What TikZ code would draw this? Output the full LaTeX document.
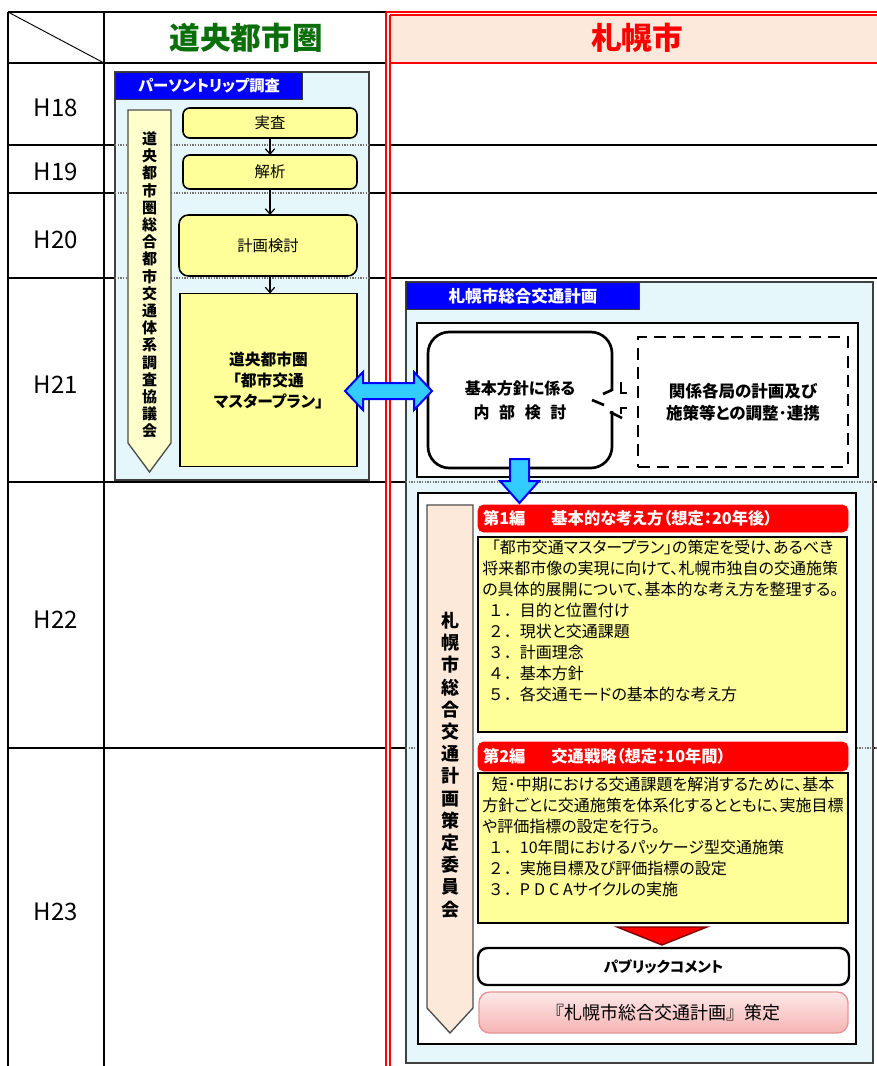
\documentclass[tikz,border=0pt]{standalone}
\usepackage{fontspec}
\setmainfont{Noto Sans CJK JP}[RawFeature={+palt}]
\newfontfamily\jpn{Noto Sans CJK JP}
\usetikzlibrary{arrows.meta,calc}
\definecolor{dgreen}{HTML}{0A6E0A}
\definecolor{peach}{HTML}{FCE9DB}
\definecolor{lblue}{HTML}{E6F7FC}
\definecolor{yel}{HTML}{FFFF99}
\definecolor{lyel}{HTML}{FFFFCC}
\definecolor{rpeach}{HTML}{FDE9DA}
\definecolor{tabblue}{HTML}{0000FF}
\definecolor{cyanA}{HTML}{33CCFF}
\definecolor{pinktop}{HTML}{FDE8E8}
\definecolor{pinkbot}{HTML}{F6B4B4}
\definecolor{pinkb}{HTML}{E69494}
\def\PX{0.75pt}
\newcommand\FS[2]{\fontsize{#1}{#2}\selectfont}
\newcommand\num[1]{\hspace*{0.35em}{\jpn #1．}}
\begin{document}
\begin{tikzpicture}[x=0.75pt,y=-0.75pt,
  tbl/.style={line width=1.4pt, draw=black},
  redl/.style={line width=1pt, draw=red},
  dotline/.style={draw=black!55, line width=1pt, dash pattern=on 1pt off 1pt},
  lbox/.style={draw=black!75, line width=1.1pt, fill=lblue},
  tab/.style={draw=black!80, line width=0.9pt, fill=tabblue, text=white, inner sep=0pt, anchor=north west},
  ybox/.style={draw=black, line width=1.2pt, fill=yel, inner sep=0pt, outer sep=0pt},
  wbox/.style={draw=black, line width=1.3pt, fill=white},
  penta/.style={draw=black!70, line width=1pt},
  rhead/.style={fill=red, draw=red, rounded corners=4pt, text=white, inner xsep=5*\PX, inner ysep=0pt, align=left, font=\bfseries\FS{12.2}{14}},
  arr/.style={-{Straight Barb[length=4pt,width=7pt]}, line width=0.9pt},
  blockarrow/.style={fill=cyanA, draw=tabblue, line width=1.5pt, line join=miter},
  body/.style={anchor=north west, inner sep=0pt, align=left, font=\FS{12}{15.75}}
]
\useasboundingbox (0,0) rectangle (877,1066);

% ---------------- table ----------------
\fill[peach] (390,15) rectangle (877,63);
\draw[tbl] (8,12) -- (386,12);
\draw[tbl] (8,12) -- (8,1066);
\draw[tbl] (104,12) -- (104,1066);
\draw[line width=0.7pt] (8,12) -- (104,63);
\foreach \yy in {63,145,193,278,482,748}{
  \draw[tbl] (8,\yy) -- (386,\yy);
}
\foreach \yy in {145,193,278,482,748}{
  \draw[tbl] (390,\yy) -- (877,\yy);
}
\draw[redl] (386,12) -- (877,12);
\draw[redl] (390,15) -- (877,15);
\draw[redl] (390,63) -- (877,63);
\draw[redl] (386,12) -- (386,1066);
\draw[redl] (390,15) -- (390,1066);

% header texts
\node[font=\bfseries\FS{23}{26}, text=dgreen] (hleft) at (246,38) {道央都市圏};
\node[font=\bfseries\FS{23}{26}, text=red] (hright) at (637,38) {札幌市};

% row labels
\node[font=\FS{18}{20}] (h18) at (56,108) {H18};
\node[font=\FS{18}{20}] (h19) at (56,172) {H19};
\node[font=\FS{18}{20}] (h20) at (56,240) {H20};
\node[font=\FS{18}{20}] (h21) at (56,385) {H21};
\node[font=\FS{18}{20}] (h22) at (56,620) {H22};
\node[font=\FS{18}{20}] (h23) at (56,912) {H23};

% ---------------- left block ----------------
\draw[lbox] (115,72) rectangle (369,480);
\foreach \yy in {145,193,278}{
  \draw[dotline] (115,\yy) -- (369,\yy);
}
\node[tab, font=\bfseries\FS{11.5}{13}, minimum width=187*\PX, minimum height=27*\PX] (ptrip) at (115,72) {パーソントリップ調査};

\draw[penta, fill=lyel] (128,110) -- (171,110) -- (171,443) -- (149.5,472) -- (128,443) -- cycle;
\node[font=\bfseries\FS{11.25}{12.9}, align=center, inner sep=0pt] (lvt) at (149.5,285)
  {道\\央\\都\\市\\圏\\総\\合\\都\\市\\交\\通\\体\\系\\調\\査\\協\\議\\会};

\node[ybox, rounded corners=5pt, minimum width=174*\PX, minimum height=30*\PX, font=\FS{11.5}{13}] (jissa) at (270,123) {実査};
\node[ybox, rounded corners=5pt, minimum width=174*\PX, minimum height=34*\PX, font=\FS{11.5}{13}] (kaiseki) at (270,172) {解析};
\node[ybox, rounded corners=7pt, minimum width=178*\PX, minimum height=61*\PX, font=\FS{11.5}{13}] (kentou) at (268,245.5) {計画検討};
\node[ybox, minimum width=177*\PX, minimum height=173*\PX, align=center, font=\bfseries\FS{11.8}{15.75}] (mp) at (268.5,380) {道央都市圏\\「都市交通\\マスタープラン」};

\draw[arr] (jissa.south) -- (jissa.south |- kaiseki.north);
\draw[arr] (kaiseki.south) -- (kaiseki.south |- kentou.north);
\draw[arr] (jissa.south |- kentou.south) -- (jissa.south |- mp.north);

% ---------------- right block ----------------
\draw[lbox] (406,282) rectangle (873,1063);
\draw[dotline] (406,482) -- (873,482);
\draw[dotline] (406,748) -- (877,748);
\node[tab, font=\bfseries\FS{12.4}{14}, minimum width=233*\PX, minimum height=27*\PX] (sptab) at (406,282) {札幌市総合交通計画};

\draw[wbox] (417,323) rectangle (858,477);
\node[draw, line width=2pt, fill=white, rounded corners=16pt, minimum width=184*\PX, minimum height=136*\PX, align=center, font=\bfseries\FS{12}{18}] (kn) at (520,400)
  {基本方針に係る\\内\hspace{0.6em}部\hspace{0.6em}検\hspace{0.6em}討};
\node[draw, line width=1.9pt, dash pattern=on 9pt off 5.5pt, fill=white, minimum width=210*\PX, minimum height=130*\PX, align=center, font=\bfseries\FS{12.4}{16.5}] (rk) at (743,402)
  {関係各局の計画及び\\施策等との調整･連携};
% callout marks
\fill[white] (608,391) rectangle (616,411);
\draw[line width=2pt] (612,390) -- (603,394);
\draw[line width=2pt] (592,400) -- (604,405);
\draw[line width=2pt] (610,412) -- (622,418);
\draw[line width=2pt] (621,382) -- (621,393) -- (627,393);
\draw[line width=2pt] (621,414) -- (621,408) -- (627,408);

\draw[wbox] (418,493) rectangle (856,1044);

% block arrows
\draw[blockarrow] (510,459) -- (529,459) -- (529,481) -- (539,481) -- (519.5,503) -- (500,481) -- (510,481) -- cycle;
\draw[blockarrow] (345,391) -- (363,372) -- (363,383) -- (414,383) -- (414,372) -- (432,391) -- (414,410) -- (414,399) -- (363,399) -- (363,410) -- cycle;

\draw[penta, fill=rpeach] (427,505) -- (473,505) -- (473,1008) -- (450,1033) -- (427,1008) -- cycle;
\node[font=\bfseries\FS{13.5}{16.65}, align=center, inner sep=0pt] (rvt) at (450,765)
  {札\\幌\\市\\総\\合\\交\\通\\計\\画\\策\\定\\委\\員\\会};

\node[rhead, text width=360*\PX, minimum height=27*\PX] (hd1) at (663,518.5) {第1編\hspace{1.6em}基本的な考え方（想定：20年後）};
\node[ybox, minimum width=369*\PX, minimum height=195*\PX] (y1) at (662.5,634.5) {};
\node[body] (t1) at (482,540) {%
\hspace*{0.6em}「都市交通マスタープラン」の策定を受け、あるべき\\
将来都市像の実現に向けて、札幌市独自の交通施策\\
の具体的展開について、基本的な考え方を整理する。\\
\num{１}目的と位置付け\\
\num{２}現状と交通課題\\
\num{３}計画理念\\
\num{４}基本方針\\
\num{５}各交通モードの基本的な考え方};

\node[rhead, text width=360*\PX, minimum height=29*\PX] (hd2) at (663,756.5) {第2編\hspace{1.6em}交通戦略（想定：10年間）};
\node[ybox, minimum width=370*\PX, minimum height=150*\PX] (y2) at (663,848) {};
\node[body] (t2) at (482,777) {%
\hspace*{0.6em}短･中期における交通課題を解消するために、基本\\
方針ごとに交通施策を体系化するとともに、実施目標\\
や評価指標の設定を行う。\\
\num{１}10年間におけるパッケージ型交通施策\\
\num{２}実施目標及び評価指標の設定\\
\num{３}P\hspace{0.25em}D\hspace{0.25em}C\hspace{0.25em}Aサイクルの実施};

\draw[fill=red, draw=red!45!black, line width=1pt, line join=miter] (617,927) -- (707,927) -- (662,945) -- cycle;

\node[draw, line width=1.8pt, fill=white, rounded corners=7pt, minimum width=371*\PX, minimum height=37*\PX, font=\bfseries\FS{11}{13}] (pc) at (663.5,966.5) {パブリックコメント};
\node[draw=pinkb, line width=1pt, rounded corners=8pt, top color=pinktop, bottom color=pinkbot, minimum width=369*\PX, minimum height=41*\PX, font=\jpn\FS{13.5}{16}] (fin) at (663.5,1012.5) {『札幌市総合交通計画』策定};
\end{tikzpicture}
\end{document}
